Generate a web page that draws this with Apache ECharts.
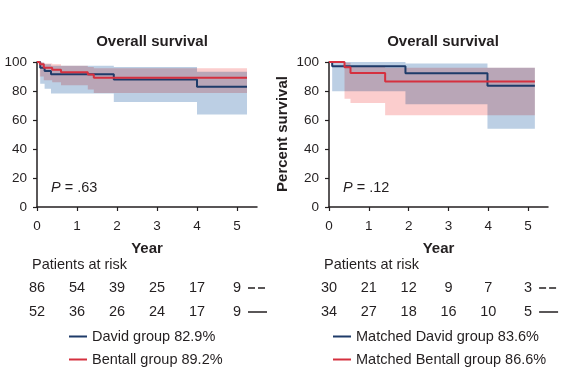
<!DOCTYPE html>
<html><head><meta charset="utf-8">
<script src="https://cdn.jsdelivr.net/npm/echarts@6/dist/echarts.min.js"></script>
<style>html,body{margin:0;padding:0;background:#fff}#c{width:580px;height:379px}</style>
</head><body><div id="c"></div>
<script>
// ---------- data ----------
const yearTicks = [0, 1, 2, 3, 4, 5];
const pctTicks = [0, 20, 40, 60, 80, 100];
const panelTitles = ['Overall survival', 'Overall survival'];
const pValues = ['.63', '.12'];
const legendNames = ['David group 82.9%', 'Bentall group 89.2%', 'Matched David group 83.6%', 'Matched Bentall group 86.6%'];

// left panel – all patients
const davidTimes = [0, 0.08, 0.19, 0.35, 1.92, 4.0];
const davidSurv = [100, 96.1, 93.8, 91.5, 87.9, 82.9];
const davidUpper = [100, 99.5, 98.5, 97.5, 96.5, 93.3];
const davidLower = [100, 85, 81.5, 78.2, 72.4, 63.8];
const davidEnd = 5.25;
const bentallTimes = [0, 0.07, 0.17, 0.38, 0.6, 1.27, 1.42];
const bentallSurv = [100, 98.4, 96.1, 94.7, 92.9, 91.3, 89.2];
const bentallUpper = [100, 99.8, 99, 98.5, 97.5, 96.5, 95.7];
const bentallLower = [100, 90, 87.5, 86, 84, 81, 78.6];
const bentallEnd = 5.25;

// right panel – matched patients
const mDavidTimes = [0, 0.08, 1.92, 3.98];
const mDavidSurv = [100, 97, 92.2, 83.6];
const mDavidUpper = [100, 100, 98.9, 96];
const mDavidLower = [100, 79.8, 70.8, 54];
const mDavidEnd = 5.17;
const mBentallTimes = [0, 0.39, 0.54, 1.41];
const mBentallSurv = [100, 96.3, 92.4, 86.6];
const mBentallUpper = [100, 99.5, 97.5, 96.1];
const mBentallLower = [100, 74.7, 71.7, 63.2];
const mBentallEnd = 5.17;

// patients at risk
const riskDavid = [86, 54, 39, 25, 17, 9];
const riskBentall = [52, 36, 26, 24, 17, 9];
const riskMDavid = [30, 21, 12, 9, 7, 3];
const riskMBentall = [34, 27, 18, 16, 10, 5];

// ---------- style ----------
const FONT = '"Liberation Sans", Arial, Helvetica, sans-serif';
const INK = '#231f20';
const NAVY = '#1e3b69';
const RED = '#d5303f';
const BLUE_BAND = '#bccfe4';
const RED_BAND = '#fbcdcd';

function stepData(times, surv, end) {
  const d = times.map((t, i) => [t, surv[i]]);
  d.push([end, surv[surv.length - 1]]);
  return d;
}
function bandSeries(times, lower, upper, end, idx, color, blend) {
  return {
    type: 'custom', xAxisIndex: idx, yAxisIndex: idx, silent: true, z: 1,
    blendMode: blend, data: [[0, 100]],
    renderItem: function (params, api) {
      const pts = [];
      for (let i = 0; i < times.length; i++) {
        const t1 = i < times.length - 1 ? times[i + 1] : end;
        pts.push(api.coord([times[i], upper[i]]), api.coord([t1, upper[i]]));
      }
      for (let i = times.length - 1; i >= 0; i--) {
        const t1 = i < times.length - 1 ? times[i + 1] : end;
        pts.push(api.coord([t1, lower[i]]), api.coord([times[i], lower[i]]));
      }
      return { type: 'polygon', shape: { points: pts }, style: { fill: color } };
    }
  };
}
function curve(name, times, surv, end, idx, color) {
  return {
    name: name, type: 'line', step: 'end', xAxisIndex: idx, yAxisIndex: idx,
    symbol: 'none', z: 3, color: color, lineStyle: { width: 2, color: color },
    data: stepData(times, surv, end), animation: false
  };
}
function xAx(idx) {
  return {
    gridIndex: idx, type: 'value', min: 0, max: 5.5, interval: 1,
    name: 'Year', nameLocation: 'middle', nameGap: 34,
    nameTextStyle: { fontFamily: FONT, fontSize: 15, fontWeight: 'bold', color: INK },
    splitLine: { show: false },
    axisLine: { lineStyle: { color: INK, width: 1.5 } },
    axisTick: { length: 4, lineStyle: { color: INK, width: 1.2 }, customValues: yearTicks },
    axisLabel: { customValues: yearTicks, fontFamily: FONT, fontSize: 13.5, color: INK, margin: 12 }
  };
}
function yAx(idx) {
  return {
    gridIndex: idx, type: 'value', min: 0, max: 100, interval: 20,
    splitLine: { show: false },
    axisLine: { show: true, lineStyle: { color: INK, width: 1.5 } },
    axisTick: { show: true, length: 4, lineStyle: { color: INK, width: 1.2 }, customValues: pctTicks },
    axisLabel: { customValues: pctTicks, fontFamily: FONT, fontSize: 13.5, color: INK, margin: 10 }
  };
}
function legend(left, names) {
  return {
    left: left, top: 328, orient: 'vertical', padding: 0, icon: 'rect',
    itemWidth: 18, itemHeight: 2, itemGap: 6, itemTextGap: 7,
    data: names,
    textStyle: { fontFamily: FONT, fontSize: 14.5, color: INK, lineHeight: 17 }
  };
}

const chart = echarts.init(document.getElementById('c'), null, { renderer: 'canvas' });
chart.setOption({
  animation: false,
  backgroundColor: '#fff',
  title: [
    { text: panelTitles[0], left: 147, top: 29, textAlign: 'center',
      textStyle: { fontFamily: FONT, fontSize: 15, fontWeight: 'bold', color: INK } },
    { text: panelTitles[1], left: 438, top: 29, textAlign: 'center',
      textStyle: { fontFamily: FONT, fontSize: 15, fontWeight: 'bold', color: INK } }
  ],
  grid: [
    { left: 37, top: 62, width: 220, height: 145 },
    { left: 329, top: 62, width: 219, height: 145 }
  ],
  xAxis: [xAx(0), xAx(1)],
  yAxis: [yAx(0), yAx(1)],
  legend: [legend(69, [legendNames[0], legendNames[1]]), legend(333, [legendNames[2], legendNames[3]])],
  series: [
    bandSeries(davidTimes, davidLower, davidUpper, davidEnd, 0, BLUE_BAND, null),
    bandSeries(bentallTimes, bentallLower, bentallUpper, bentallEnd, 0, RED_BAND, 'multiply'),
    curve(legendNames[0], davidTimes, davidSurv, davidEnd, 0, NAVY),
    curve(legendNames[1], bentallTimes, bentallSurv, bentallEnd, 0, RED),
    bandSeries(mDavidTimes, mDavidLower, mDavidUpper, mDavidEnd, 1, BLUE_BAND, null),
    bandSeries(mBentallTimes, mBentallLower, mBentallUpper, mBentallEnd, 1, RED_BAND, 'multiply'),
    curve(legendNames[2], mDavidTimes, mDavidSurv, mDavidEnd, 1, NAVY),
    curve(legendNames[3], mBentallTimes, mBentallSurv, mBentallEnd, 1, RED)
  ]
});

// ---------- annotations (positions through the axes) ----------
const g = [];
function txt(x, y, text, opts) {
  g.push(Object.assign({ type: 'text', x: x, y: y, silent: true,
    style: Object.assign({ text: text, fontFamily: FONT, fontSize: 14.5, fill: INK,
      align: 'left', verticalAlign: 'middle' }, opts || {}) }));
}
[0, 1].forEach(function (idx) {
  const p = chart.convertToPixel({ xAxisIndex: idx, yAxisIndex: idx }, [0, 0]);
  const x0 = p[0];
  // P value
  g.push({ type: 'text', x: x0 + 14, y: 188, silent: true,
    style: { text: '{i|P} = ' + pValues[idx], fontFamily: FONT, fontSize: 14.5, fill: INK,
      verticalAlign: 'middle', rich: { i: { fontStyle: 'italic', fontFamily: FONT, fontSize: 14.5, fill: INK } } } });
  // Patients at risk
  txt(x0 - 5, 265, 'Patients at risk');
  const rows = idx === 0 ? [riskDavid, riskBentall] : [riskMDavid, riskMBentall];
  const rowY = [288, 312];
  rows.forEach(function (row, r) {
    row.forEach(function (v, k) {
      const px = chart.convertToPixel({ xAxisIndex: idx }, yearTicks[k]);
      txt(px, rowY[r], String(v), { align: 'center' });
    });
    const px5 = chart.convertToPixel({ xAxisIndex: idx }, yearTicks[yearTicks.length - 1]);
    g.push({ type: 'line', silent: true,
      shape: { x1: px5 + 11, y1: rowY[r], x2: px5 + 30, y2: rowY[r] },
      style: { stroke: INK, lineWidth: 1.5, lineDash: r === 0 ? [7, 3] : null } });
  });
});
// y axis name on right panel
g.push({ type: 'text', x: 283, y: 134, rotation: Math.PI / 2, silent: true,
  style: { text: 'Percent survival', fontFamily: FONT, fontSize: 15, fontWeight: 'bold', fill: INK,
    align: 'center', verticalAlign: 'middle' } });
chart.setOption({ graphic: g });
</script>
</body></html>
